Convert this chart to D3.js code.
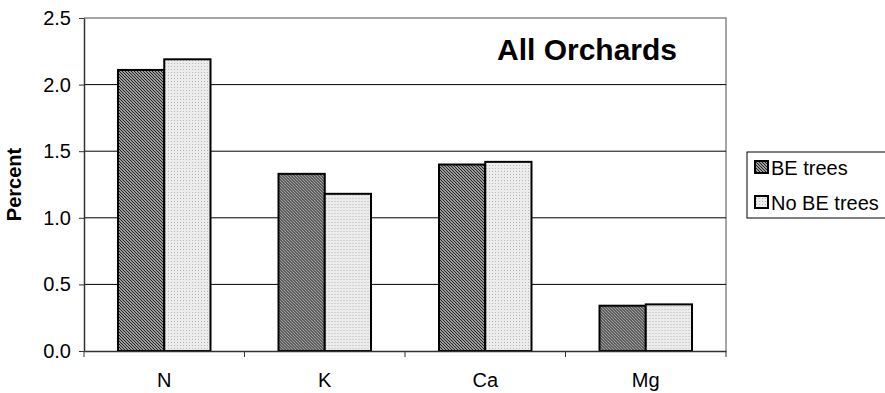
<!DOCTYPE html>
<html><head><meta charset="utf-8">
<script src="https://cdn.jsdelivr.net/npm/d3@7"></script>
<style>body{margin:0;background:#fff}svg{display:block;font-family:"Liberation Sans",Arial,sans-serif}</style>
</head><body><svg id="c" width="885" height="393"></svg>
<script>
const categories = ["N","K","Ca","Mg"];
const seriesNames = ["BE trees","No BE trees"];
const beTrees = [2.11,1.33,1.40,0.34];
const noBeTrees = [2.19,1.18,1.42,0.35];
const yTicks = [0,0.5,1.0,1.5,2.0,2.5];

const svg = d3.select("#c");
const defs = svg.append("defs");
const p1 = defs.append("pattern").attr("id","hatch").attr("patternUnits","userSpaceOnUse").attr("width",3).attr("height",3);
p1.append("rect").attr("width",3).attr("height",3).attr("fill","#fff");
p1.append("path").attr("d","M-1,-1 L4,4 M-1,2 L1,4 M2,-1 L4,1").attr("stroke","#222").attr("stroke-width",1.3);
const p2 = defs.append("pattern").attr("id","dots").attr("patternUnits","userSpaceOnUse").attr("width",3).attr("height",3);
p2.append("rect").attr("width",3).attr("height",3).attr("fill","#ececec");
p2.append("rect").attr("width",1).attr("height",1).attr("fill","#b8b8b8");
const fills = ["url(#hatch)","url(#dots)"];

const L=84,R=726,T=18,B=351;
const FS=20;
const x0 = d3.scaleBand().domain(categories).range([L,R]).paddingInner(0).paddingOuter(0);
const x1 = d3.scaleBand().domain(seriesNames).range([34, x0.bandwidth()-34]);
const y = d3.scaleLinear().domain([0,2.5]).range([B,T]);

// plot border
svg.append("path").attr("d",`M${L},${T}H${R}V${B}`).attr("fill","none").attr("stroke","#888").attr("stroke-width",1.5);
// gridlines
svg.append("g").selectAll("line").data(yTicks.filter(d=>d>0&&d<2.5)).join("line")
 .attr("x1",L).attr("x2",R).attr("y1",d=>y(d)).attr("y2",d=>y(d)).attr("stroke","#000").attr("stroke-width",1);

// bars
const data = categories.map((c,i)=>({c, vals:[beTrees[i],noBeTrees[i]]}));
const g = svg.append("g").selectAll("g").data(data).join("g").attr("transform",d=>`translate(${x0(d.c)},0)`);
g.selectAll("rect").data(d=>d.vals.map((v,j)=>({s:seriesNames[j],v,j}))).join("rect")
 .attr("x",d=>x1(d.s)).attr("width",x1.bandwidth()).attr("y",d=>y(d.v)).attr("height",d=>B-y(d.v))
 .attr("fill",d=>fills[d.j]).attr("stroke","#000").attr("stroke-width",2);

// y axis
const ya = svg.append("g").attr("transform",`translate(${L},0)`)
 .call(d3.axisLeft(y).tickValues(yTicks).tickFormat(d3.format(".1f")).tickSize(5).tickSizeOuter(0));
ya.select(".domain").attr("stroke","#333").attr("stroke-width",1.5);
ya.selectAll(".tick line").attr("stroke","#333");
ya.selectAll("text").attr("font-size",FS).attr("fill","#000").attr("font-family","Liberation Sans, Arial, sans-serif").attr("x",-13);

// x axis
const xa = svg.append("g").attr("transform",`translate(0,${B})`)
 .call(d3.axisBottom(x0).tickSize(0).tickSizeOuter(0));
xa.select(".domain").attr("stroke","#333").attr("stroke-width",1.5);
xa.selectAll("text").attr("font-size",FS).attr("fill","#000").attr("font-family","Liberation Sans, Arial, sans-serif").attr("y",36).attr("dy",0);
svg.append("g").selectAll("line").data(d3.range(categories.length+1)).join("line")
 .attr("x1",i=>L+i*x0.step()).attr("x2",i=>L+i*x0.step()).attr("y1",B).attr("y2",B+6).attr("stroke","#333");

// y label
svg.append("text").attr("transform",`translate(21,${(T+B)/2}) rotate(-90)`).attr("text-anchor","middle")
 .attr("font-weight","bold").attr("font-size",FS).text("Percent");

// title
svg.append("text").attr("x",497).attr("y",60).attr("font-weight","bold").attr("font-size",30).text("All Orchards");

// legend
const lg = svg.append("g");
lg.append("rect").attr("x",747).attr("y",152).attr("width",150).attr("height",66).attr("fill","#fff").attr("stroke","#000").attr("stroke-width",1);
seriesNames.forEach((s,i)=>{
  const yy = 161 + i*35;
  lg.append("rect").attr("x",755).attr("y",yy).attr("width",13).attr("height",12).attr("fill",fills[i]).attr("stroke","#000").attr("stroke-width",2);
  lg.append("text").attr("x",771).attr("y",yy+14).attr("font-size",FS).text(s);
});
</script></body></html>
